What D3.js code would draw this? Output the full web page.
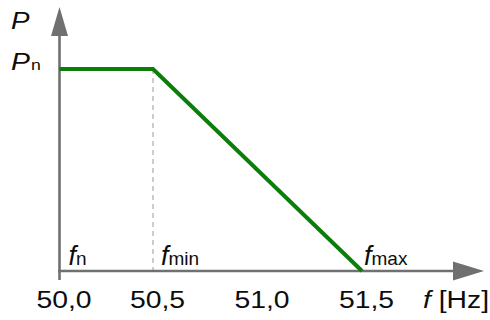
<!DOCTYPE html>
<html><head><meta charset="utf-8">
<script src="https://cdn.jsdelivr.net/npm/d3@7"></script>
<style>html,body{margin:0;padding:0;background:#fff}svg{display:block}text{font-family:"Liberation Sans",Arial,sans-serif;fill:#0d0d0d}</style>
</head><body>
<script>
const freqTicks = [50.0, 50.5, 51.0, 51.5];
const tickLabels = ["50,0", "50,5", "51,0", "51,5"];
const curveF = [50.0, 50.5, 51.5];
const curveP = [1, 1, 0];
const fMin = 50.5;
const markerF = [50.0, 50.5, 51.5];
const markerSub = ["n", "min", "max"];
const markerDx = [9, 8, 2];

const W = 490, H = 320;
const svg = d3.select("body").append("svg").attr("width", W).attr("height", H);
const x = d3.scaleLinear().domain([50.0, 50.5, 51.5]).range([59.5, 153, 362]);
const y = d3.scaleLinear().domain([0, 1]).range([271, 69]);
const axisCol = "#707070";
const SX = 1.18;

function stretched(px, py) {
  return svg.append("g").attr("transform", `translate(${px},${py}) scale(${SX},1)`).append("text");
}

// dashed guide
svg.append("line").attr("x1", x(fMin)).attr("x2", x(fMin)).attr("y1", y(1)).attr("y2", y(0))
  .attr("stroke", "#9a9a9a").attr("stroke-width", 1).attr("stroke-dasharray", "5,4");

// axes
const ax0 = x(50);
svg.append("line").attr("x1", ax0 - 1.5).attr("x2", 456).attr("y1", y(0)).attr("y2", y(0)).attr("stroke", axisCol).attr("stroke-width", 2.6);
svg.append("path").attr("d", `M453,${y(0)-9.5} L484,${y(0)} L453,${y(0)+9.5} Z`).attr("fill", axisCol);
svg.append("line").attr("x1", ax0).attr("x2", ax0).attr("y1", 280).attr("y2", 33).attr("stroke", axisCol).attr("stroke-width", 2.6);
svg.append("path").attr("d", `M${ax0-8.5},36 L${ax0},7 L${ax0+8.5},36 Z`).attr("fill", axisCol);

// curve
const pts = curveF.map((f, i) => [x(f), y(curveP[i])]);
svg.append("path").attr("d", d3.line()(pts)).attr("fill", "none").attr("stroke", "#0a7d0a").attr("stroke-width", 4).attr("stroke-linejoin", "miter");

// tick labels
freqTicks.forEach((d, i) => {
  stretched(x(d) + 4.5, 307.5).attr("text-anchor", "middle").attr("font-size", 24).text(tickLabels[i]);
});

// markers
markerF.forEach((f, i) => {
  const t = svg.append("text").attr("x", x(f) + markerDx[i]).attr("y", 264.5).attr("font-size", 27);
  t.append("tspan").attr("font-style", "italic").text("f");
  t.append("tspan").attr("font-size", 19).attr("dx", 0).text(markerSub[i]);
});

// axis labels
stretched(11, 28.5).attr("font-size", 23.5).attr("font-style", "italic").text("P");
const pn = stretched(11, 70).attr("font-size", 24);
pn.append("tspan").attr("font-style", "italic").text("P");
pn.append("tspan").attr("font-size", 15).attr("dx", 1).text("n");
const fl = stretched(423, 307.5).attr("font-size", 24);
fl.append("tspan").attr("font-style", "italic").text("f");
fl.append("tspan").text(" [Hz]");
</script>
</body></html>
